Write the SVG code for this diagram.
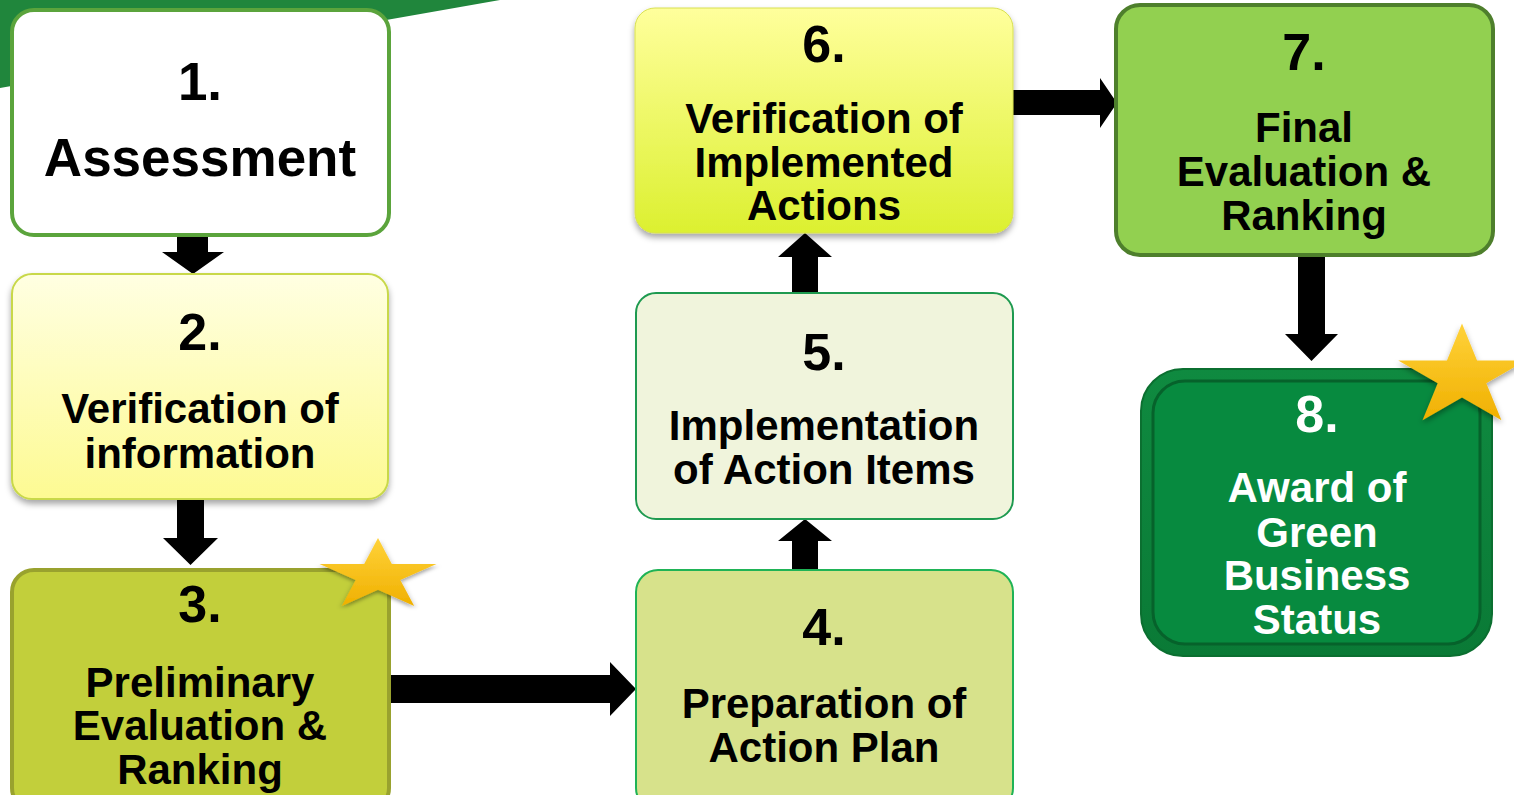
<svg xmlns="http://www.w3.org/2000/svg" width="1514" height="795" viewBox="0 0 1514 795">
<defs>
<style>
text{font-family:"Liberation Sans",Arial,sans-serif;font-weight:bold;text-anchor:middle;fill:#000}
.num{font-size:52px}
.lbl{font-size:42px}
.big{font-size:53px}
.w{fill:#fff}
.arrow{fill:#000}
</style>
<linearGradient id="g2" x1="0" y1="0" x2="0" y2="1"><stop offset="0" stop-color="#ffffe2"/><stop offset="1" stop-color="#fdfa92"/></linearGradient>
<linearGradient id="g6" x1="0" y1="0" x2="0" y2="1"><stop offset="0" stop-color="#ffff9c"/><stop offset="1" stop-color="#dcf030"/></linearGradient>
<linearGradient id="gstar" x1="0" y1="0" x2="0" y2="1"><stop offset="0" stop-color="#ffd23a"/><stop offset="1" stop-color="#f0b000"/></linearGradient>
<linearGradient id="g8" x1="0" y1="0" x2="0" y2="1"><stop offset="0" stop-color="#0f8a40"/><stop offset="1" stop-color="#0a7a36"/></linearGradient>
<filter id="sh" x="-10%" y="-10%" width="120%" height="130%"><feDropShadow dx="0" dy="4" stdDeviation="3" flood-color="#000" flood-opacity="0.35"/></filter>
<polygon id="star" points="0,-61.5 13.8,-19 58.5,-19 22.3,7.3 36.2,49.8 0,23.5 -36.2,49.8 -22.3,7.3 -58.5,-19 -13.8,-19"/>
</defs>
<rect width="1514" height="795" fill="#fff"/>
<polygon points="0,0 500,0 0,88" fill="#20863c"/>

<g id="connectors">
<polygon class="arrow" points="177,236 208,236 208,252 224,252 193,274 162,252 177,252"/>
<polygon class="arrow" points="177,500 204,500 204,538 218,538 190.5,565 163,538 177,538"/>
<polygon class="arrow" points="390,675 610,675 610,662 636,689 610,716 610,703 390,703"/>
<polygon class="arrow" points="792,570 818,570 818,541 832,541 805,519 778,541 792,541"/>
<polygon class="arrow" points="792,293 818,293 818,257 832,257 805,233 778,257 792,257"/>
<polygon class="arrow" points="1013,90 1100,90 1100,78 1117,103 1100,128 1100,115 1013,115"/>
<polygon class="arrow" points="1298,256 1325,256 1325,334 1338,334 1311.5,361 1285,334 1298,334"/>
</g>

<g id="node1">
<rect x="12" y="10" width="377" height="225" rx="22" fill="#fff" stroke="#5ba43c" stroke-width="4"/>
<text class="big" x="200" y="100">1.</text>
<text class="big" x="200" y="176">Assessment</text>
</g>

<g id="node2">
<rect x="12" y="274" width="376" height="225" rx="20" fill="url(#g2)" stroke="#c8d84a" stroke-width="2" filter="url(#sh)"/>
<text class="num" x="200" y="350">2.</text>
<text class="lbl" x="200" y="423">Verification of</text>
<text class="lbl" x="200" y="468">information</text>
</g>

<g id="node3">
<rect x="12" y="570" width="377" height="240" rx="22" fill="#c2cf3b" stroke="#99a22e" stroke-width="4"/>
<text class="num" x="200" y="622">3.</text>
<text class="lbl" x="200" y="697">Preliminary</text>
<text class="lbl" x="200" y="740">Evaluation &amp;</text>
<text class="lbl" x="200" y="784">Ranking</text>
<use href="#star" transform="translate(378,575.5) scale(1,0.61)" fill="url(#gstar)" filter="url(#sh)"/>
</g>

<g id="node4">
<rect x="636" y="570" width="377" height="240" rx="22" fill="#d7e28b" stroke="#1fb356" stroke-width="2"/>
<text class="num" x="824" y="645">4.</text>
<text class="lbl" x="824" y="718">Preparation of</text>
<text class="lbl" x="824" y="762">Action Plan</text>
</g>

<g id="node5">
<rect x="636" y="293" width="377" height="226" rx="20" fill="#f0f4dc" stroke="#1e9a50" stroke-width="2"/>
<text class="num" x="824" y="370">5.</text>
<text class="lbl" x="824" y="440">Implementation</text>
<text class="lbl" x="824" y="484">of Action Items</text>
</g>

<g id="node6">
<rect x="635" y="8" width="378" height="225" rx="20" fill="url(#g6)" stroke="#d8e050" stroke-width="1" filter="url(#sh)"/>
<text class="num" x="824" y="62">6.</text>
<text class="lbl" x="824" y="133">Verification of</text>
<text class="lbl" x="824" y="177">Implemented</text>
<text class="lbl" x="824" y="220">Actions</text>
</g>

<g id="node7">
<rect x="1116" y="5" width="377" height="250" rx="24" fill="#92d050" stroke="#4e7f2c" stroke-width="4"/>
<text class="num" x="1304" y="70">7.</text>
<text class="lbl" x="1304" y="142">Final</text>
<text class="lbl" x="1304" y="186">Evaluation &amp;</text>
<text class="lbl" x="1304" y="230">Ranking</text>
</g>

<g id="node8">
<rect x="1141" y="369" width="351" height="287" rx="42" fill="url(#g8)" stroke="#0b6f30" stroke-width="2"/>
<rect x="1153" y="381" width="327" height="263" rx="32" fill="#078a3f" stroke="#06622b" stroke-width="3"/>
<text class="num w" x="1317" y="432">8.</text>
<text class="lbl w" x="1317" y="502">Award of</text>
<text class="lbl w" x="1317" y="547">Green</text>
<text class="lbl w" x="1317" y="590">Business</text>
<text class="lbl w" x="1317" y="634">Status</text>
<use href="#star" transform="translate(1462,377) scale(1.09,0.87)" fill="url(#gstar)" filter="url(#sh)"/>
</g>
</svg>
